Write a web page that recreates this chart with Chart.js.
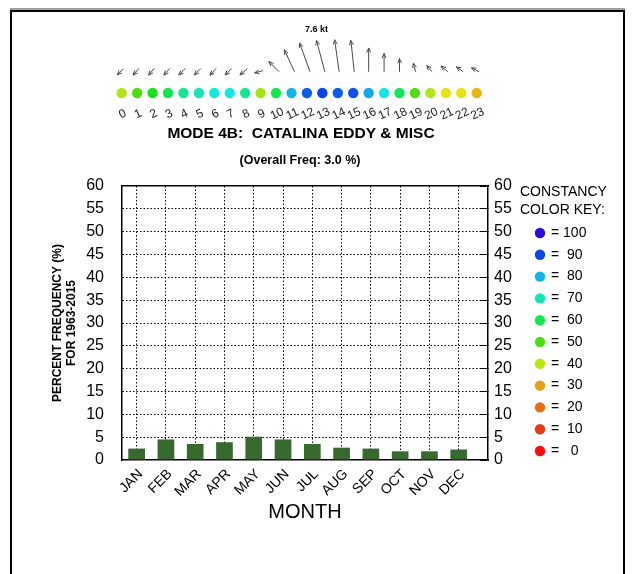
<!DOCTYPE html>
<html>
<head>
<meta charset="utf-8">
<script src="https://cdn.jsdelivr.net/npm/chart.js@4"></script>
<style>
  html, body { margin: 0; padding: 0; background: #fff; }
  #wrap { position: relative; width: 633px; height: 574px; overflow: hidden; }
  canvas { position: absolute; left: 0; top: 0; }
  #frame { position: absolute; left: 10px; top: 10px; width: 611px; height: 620px;
           border: 2px solid #000; box-shadow: 0 -2px 0 #a0a0a0; }
</style>
</head>
<body>
<div id="wrap">
  <div id="frame"></div>
  <canvas id="freqChart" width="633" height="574"></canvas>
  <canvas id="windChart" width="633" height="175"></canvas>
</div>
<script>
// hourly wind vectors (kt, direction the arrow points, deg from north) and constancy (%)
const hours = [0,1,2,3,4,5,6,7,8,9,10,11,12,13,14,15,16,17,18,19,20,21,22,23];
const windSpeed = [2.1,2.1,2.1,2.1,2.2,2.2,2.2,2.2,2.3,2.1,3.4,5.7,7.2,7.6,7.6,7.4,5.6,4.3,3.1,2.1,1.9,2.1,2.0,2.0];
const windDir = [225,220,220,222,225,225,222,225,230,255,315,335,340,345,352,354,0,0,0,345,320,310,305,298];
const hourConstancy = [41,50,55,60,67,70,74,75,67,42,60,80,88,90,88,89,81,75,61,50,41,36,36,32];

// monthly percent frequency
const months = ['JAN','FEB','MAR','APR','MAY','JUN','JUL','AUG','SEP','OCT','NOV','DEC'];
const monthFreq = [2.5,4.5,3.5,3.9,5.1,4.5,3.5,2.7,2.5,1.9,1.9,2.3];

// constancy colour key
const keyValues = [100,90,80,70,60,50,40,30,20,10,0];
const keyColors = ['#2a0ee0','#0a46e6','#14b4e8','#14e6b4','#14e650','#50dc14','#bee614','#e6a014','#e66e14','#e63c14','#ff0a0a'];

const FONT = "'Liberation Sans', Arial, sans-serif";
Chart.defaults.font.family = FONT;
Chart.defaults.color = '#000';

function hexToHsl(hex) {
    const r = parseInt(hex.slice(1,3),16)/255, g = parseInt(hex.slice(3,5),16)/255, b = parseInt(hex.slice(5,7),16)/255;
    const mx = Math.max(r,g,b), mn = Math.min(r,g,b);
    let h = 0, s = 0;
    const l = (mx+mn)/2;
    if (mx !== mn) {
        const d = mx-mn;
        s = l > 0.5 ? d/(2-mx-mn) : d/(mx+mn);
        if (mx === r) h = ((g-b)/d + (g < b ? 6 : 0));
        else if (mx === g) h = (b-r)/d + 2;
        else h = (r-g)/d + 4;
        h *= 60;
    }
    return [h, s*100, l*100];
}

// colour for a constancy value, interpolated along the key
function constancyColor(v) {
    for (let i = 0; i < keyValues.length-1; i++) {
        const hi = keyValues[i], lo = keyValues[i+1];
        if (v <= hi && v >= lo) {
            const t = (v-lo)/(hi-lo);
            const a = hexToHsl(keyColors[i+1]), b = hexToHsl(keyColors[i]);
            const h = a[0] + (b[0]-a[0])*t, s = a[1] + (b[1]-a[1])*t, l = a[2] + (b[2]-a[2])*t;
            return `hsl(${h.toFixed(1)}, ${s.toFixed(1)}%, ${l.toFixed(1)}%)`;
        }
    }
    return keyColors[0];
}

const arrowBase = 5;

const windPlugin = {
    id: 'windArrows',
    afterDatasetsDraw(chart) {
        const {ctx, scales: {x, y}} = chart;
        const k = y.getPixelForValue(0) - y.getPixelForValue(1);
        let maxI = 0;
        windSpeed.forEach((s, i) => { if (s > windSpeed[maxI]) maxI = i; });
        ctx.save();
        ctx.strokeStyle = '#4a4a4a';
        ctx.lineWidth = 1;
        hours.forEach((h, i) => {
            const a = windDir[i] * Math.PI / 180;
            const len = windSpeed[i] * k;
            const dx = len * Math.sin(a), dy = -len * Math.cos(a);
            const tx = x.getPixelForValue(h) - 0.3 * dx;
            const ty = y.getPixelForValue(arrowBase) - Math.max(0, 0.5 * dy);
            const hx = tx + dx, hy = ty + dy;
            ctx.beginPath();
            ctx.moveTo(tx, ty);
            ctx.lineTo(hx, hy);
            const barb = 5, spread = 0.4;
            const back = Math.atan2(-dy, -dx);
            ctx.moveTo(hx + barb*Math.cos(back+spread), hy + barb*Math.sin(back+spread));
            ctx.lineTo(hx, hy);
            ctx.lineTo(hx + barb*Math.cos(back-spread), hy + barb*Math.sin(back-spread));
            ctx.stroke();
            if (i === maxI) {
                ctx.fillStyle = '#000';
                ctx.font = `bold 9px ${FONT}`;
                ctx.textAlign = 'center';
                ctx.textBaseline = 'middle';
                ctx.fillText(windSpeed[i].toFixed(1) + ' kt', hx, hy - 11);
            }
        });
        // hour labels
        ctx.fillStyle = '#222';
        ctx.font = `12px ${FONT}`;
        ctx.textAlign = 'center';
        ctx.textBaseline = 'middle';
        hours.forEach(h => {
            ctx.save();
            ctx.translate(x.getPixelForValue(h) + 1, y.getPixelForValue(0) + 21);
            ctx.rotate(-25 * Math.PI / 180);
            ctx.fillText(String(h), 0, 0);
            ctx.restore();
        });
        ctx.restore();
    }
};

new Chart(document.getElementById('windChart'), {
    type: 'scatter',
    data: {
        datasets: [{
            data: hours.map(h => ({x: h, y: 0})),
            pointRadius: 5.2,
            pointBorderWidth: 0,
            pointBackgroundColor: hourConstancy.map(constancyColor),
            clip: false
        }]
    },
    options: {
        responsive: false,
        animation: false,
        events: [],
        layout: {padding: {left: 121.7, right: 156.3, top: 33.5, bottom: 73.5}},
        scales: {
            x: {display: false, min: 0, max: 23},
            y: {display: false, min: -2, max: 14}
        },
        plugins: {legend: {display: false}, tooltip: {enabled: false}}
    },
    plugins: [windPlugin]
});

const textPlugin = {
    id: 'titlesAndKey',
    afterDraw(chart) {
        const {ctx} = chart;
        ctx.save();
        ctx.fillStyle = '#000';
        ctx.textAlign = 'center';
        ctx.textBaseline = 'middle';
        ctx.font = `bold 15.5px ${FONT}`;
        ctx.fillText('MODE 4B:  CATALINA EDDY & MISC', 301, 134);
        ctx.font = `bold 12.5px ${FONT}`;
        ctx.fillText('(Overall Freq: 3.0 %)', 300, 161);

        ctx.textAlign = 'left';
        ctx.font = `14px ${FONT}`;
        ctx.fillText('CONSTANCY', 520, 192);
        ctx.fillText('COLOR KEY:', 520, 210);
        keyValues.forEach((v, i) => {
            const yy = 233 + i * 21.8;
            ctx.fillStyle = keyColors[i];
            ctx.beginPath();
            ctx.arc(540, yy, 5.2, 0, Math.PI * 2);
            ctx.fill();
            ctx.fillStyle = '#000';
            ctx.fillText('= ' + String(v).padStart(3, ' ').replace(/ /g, '\u00a0'), 551, yy);
        });
        ctx.restore();
    }
};

new Chart(document.getElementById('freqChart'), {
    type: 'bar',
    data: {
        datasets: [{
            data: monthFreq.map((v, i) => ({x: i + 1, y: v})),
            backgroundColor: '#386a30',
            borderWidth: 0,
            barPercentage: 0.57,
            categoryPercentage: 1,
            xAxisID: 'x',
            yAxisID: 'y'
        }]
    },
    options: {
        responsive: false,
        animation: false,
        events: [],
        layout: {padding: 0},
        scales: {
            x: {
                type: 'linear', position: 'bottom', min: 0.5, max: 13,
                offset: false,
                afterBuildTicks: s => { s.ticks = months.map((m, i) => ({value: i + 1})); },
                ticks: {
                    callback: v => months[v - 1],
                    autoSkip: false, minRotation: 45, maxRotation: 45, padding: 6, labelOffset: 4,
                    font: {size: 14}
                },
                grid: {color: '#000', lineWidth: 1, drawTicks: false, offset: false},
                border: {display: true, color: '#000', width: 1.5, dash: [1.5, 2]},
                title: {display: true, text: 'MONTH', font: {size: 20}, padding: {top: 0, bottom: 50}},
                afterFit: s => { s.height = 114; }
            },
            xTop: {
                type: 'linear', position: 'top', min: 0.5, max: 13,
                ticks: {display: false},
                grid: {display: false},
                border: {display: true, color: '#000', width: 1.5},
                afterFit: s => { s.height = 186; }
            },
            y: {
                position: 'left', min: 0, max: 60,
                ticks: {stepSize: 5, padding: 18, font: {size: 16}},
                grid: {
                    color: c => (c.tick.value === 0 || c.tick.value === 60) ? 'rgba(0,0,0,0)' : '#000',
                    lineWidth: 1, drawTicks: false
                },
                border: {display: true, color: '#000', width: 1.5, dash: [1.5, 2]},
                title: {
                    display: true,
                    text: ['PERCENT FREQUENCY (%)', 'FOR 1963-2015'],
                    font: {size: 12, weight: 'bold'},
                    padding: {top: 50, bottom: 0}
                },
                afterFit: s => { s.width = 122; }
            },
            yRight: {
                position: 'right', min: 0, max: 60,
                ticks: {stepSize: 5, padding: 14, font: {size: 16}},
                grid: {display: true, drawOnChartArea: false, drawTicks: true, tickLength: -8, color: '#000', lineWidth: 1},
                border: {display: true, color: '#000', width: 1.5},
                afterFit: s => { s.width = 145; }
            }
        },
        plugins: {legend: {display: false}, tooltip: {enabled: false}, title: {display: false}}
    },
    plugins: [textPlugin]
});
</script>
</body>
</html>
